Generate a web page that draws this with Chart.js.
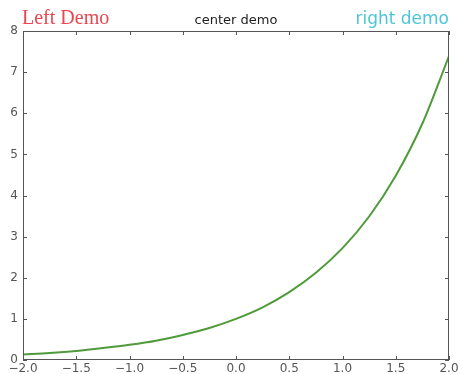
<!DOCTYPE html>
<html lang="en">
<head>
<meta charset="UTF-8">
<title>exp demo</title>
<script src="https://cdn.jsdelivr.net/npm/chart.js@4/dist/chart.umd.min.js"></script>
<style>
  body { margin: 0; background: #fff; }
  #wrap { width: 462px; height: 374px; }
</style>
</head>
<body>
<div id="wrap"><canvas id="chart" width="462" height="374"></canvas></div>
<script>
// values
const xs = [-2, -1.75, -1.5, -1.25, -1, -0.75, -0.5, -0.25, 0, 0.25, 0.5, 0.75, 1, 1.25, 1.5, 1.75, 2];
const ys = [0.135, 0.17, 0.22, 0.29, 0.37, 0.47, 0.61, 0.78, 1.0, 1.28, 1.65, 2.12, 2.72, 3.49, 4.48, 5.75, 7.39];
const xTicks = [-2, -1.5, -1, -0.5, 0, 0.5, 1, 1.5, 2];
const yTicks = [0, 1, 2, 3, 4, 5, 6, 7, 8];
const titles = { left: 'Left Demo', center: 'center demo', right: 'right demo' };

const points = xs.map((x, i) => ({ x: x, y: ys[i] }));

// frame, inward ticks on all sides, and the three titles
const framePlugin = {
  id: 'frame',
  afterDraw(chart) {
    const ctx = chart.ctx;
    const a = chart.chartArea;
    const sx = chart.scales.x, sy = chart.scales.y;
    ctx.save();
    ctx.strokeStyle = '#555';
    ctx.lineWidth = 1;
    ctx.strokeRect(a.left + 0.5, a.top + 0.5, a.right - a.left - 1, a.bottom - a.top - 1);
    ctx.beginPath();
    xTicks.forEach(v => {
      const px = Math.round(sx.getPixelForValue(v)) + 0.5;
      ctx.moveTo(px, a.bottom); ctx.lineTo(px, a.bottom - 4);
      ctx.moveTo(px, a.top); ctx.lineTo(px, a.top + 4);
    });
    yTicks.forEach(v => {
      const py = Math.round(sy.getPixelForValue(v)) + 0.5;
      ctx.moveTo(a.left, py); ctx.lineTo(a.left + 4, py);
      ctx.moveTo(a.right, py); ctx.lineTo(a.right - 4, py);
    });
    ctx.stroke();

    ctx.textBaseline = 'alphabetic';
    ctx.fillStyle = '#e8474f';
    ctx.font = '20px "Liberation Serif", serif';
    ctx.textAlign = 'left';
    ctx.fillText(titles.left, a.left - 1, 24);
    ctx.fillStyle = '#222';
    ctx.font = '13px "DejaVu Sans", sans-serif';
    ctx.textAlign = 'center';
    ctx.fillText(titles.center, (a.left + a.right) / 2, 24);
    ctx.fillStyle = '#4ec6d8';
    ctx.font = '17px "DejaVu Sans", sans-serif';
    ctx.textAlign = 'right';
    ctx.fillText(titles.right, a.right, 24);
    ctx.restore();
  }
};

new Chart(document.getElementById('chart'), {
  type: 'line',
  data: {
    datasets: [{
      data: points,
      borderColor: '#4f9a3a',
      borderWidth: 2,
      pointRadius: 0,
      fill: false,
      cubicInterpolationMode: 'monotone'
    }]
  },
  options: {
    responsive: false,
    animation: false,
    layout: { padding: { top: 31, right: 13, left: 0, bottom: 0 } },
    plugins: { legend: { display: false }, tooltip: { enabled: false } },
    scales: {
      x: {
        type: 'linear',
        min: -2, max: 2,
        afterFit: s => { s.height = 14; },
        afterBuildTicks: s => { s.ticks = xTicks.map(v => ({ value: v })); },
        grid: { display: false, drawTicks: false },
        border: { display: false },
        ticks: {
          padding: 2,
          color: '#555',
          font: { family: 'DejaVu Sans', size: 12 },
          maxRotation: 0,
          autoSkip: false,
          callback: v => v.toFixed(1).replace('-', '\u2212')
        }
      },
      y: {
        min: 0, max: 8,
        afterFit: s => { s.width = 23; },
        afterBuildTicks: s => { s.ticks = yTicks.map(v => ({ value: v })); },
        grid: { display: false, drawTicks: false },
        border: { display: false },
        ticks: {
          padding: 5,
          color: '#555',
          font: { family: 'DejaVu Sans', size: 12 },
          callback: v => String(v)
        }
      }
    }
  },
  plugins: [framePlugin]
});
</script>
</body>
</html>
